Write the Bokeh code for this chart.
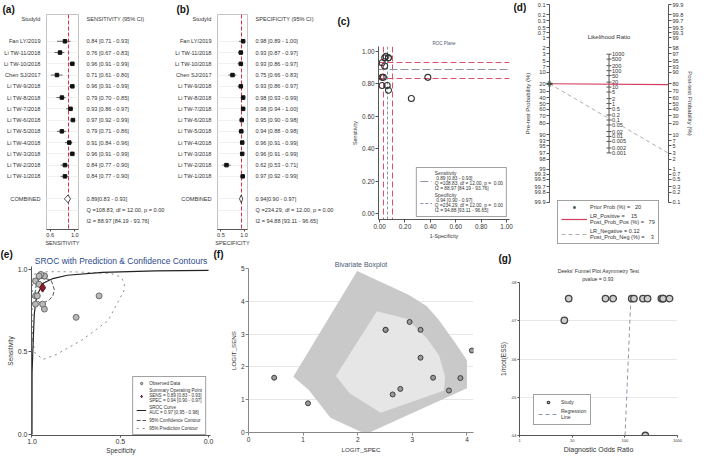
import numpy as np
from bokeh.plotting import figure
from bokeh.layouts import row, column
from bokeh.models import Range1d, FixedTicker, LinearAxis, Legend, Label, Title, PrintfTickFormatter
from bokeh.embed import file_html
from bokeh.resources import INLINE
from bokeh.core.properties import value

FONT = "Liberation Sans"
TXT = "#333333"

# ---------------- data ----------------
studies = ["Fan LY/2019", "Li TW-11/2018", "Li TW-10/2018", "Chen SJ/2017", "Li TW-9/2018",
           "Li TW-8/2018", "Li TW-7/2018", "Li TW-6/2018", "Li TW-5/2018", "Li TW-4/2018",
           "Li TW-3/2018", "Li TW-2/2018", "Li TW-1/2018"]
sens    = [0.84, 0.76, 0.96, 0.71, 0.96, 0.79, 0.93, 0.97, 0.79, 0.91, 0.96, 0.84, 0.84]
sens_lo = [0.71, 0.67, 0.91, 0.61, 0.91, 0.70, 0.86, 0.92, 0.71, 0.84, 0.91, 0.77, 0.77]
sens_hi = [0.93, 0.83, 0.99, 0.80, 0.99, 0.85, 0.97, 0.99, 0.86, 0.96, 0.99, 0.90, 0.90]
spec    = [0.98, 0.93, 0.93, 0.75, 0.93, 0.98, 0.98, 0.95, 0.94, 0.96, 0.96, 0.62, 0.97]
spec_lo = [0.89, 0.87, 0.86, 0.66, 0.86, 0.93, 0.94, 0.90, 0.88, 0.91, 0.91, 0.53, 0.92]
spec_hi = [1.00, 0.97, 0.97, 0.83, 0.97, 0.99, 1.00, 0.98, 0.98, 0.99, 0.99, 0.71, 0.99]
pooled_sens = [0.89, 0.83, 0.93]
pooled_spec = [0.94, 0.90, 0.97]
sens_het = "Q =108.83, df = 12.00, p =  0.00"
sens_i2 = "I2 = 88.97 [84.19 - 93.76]"
spec_het = "Q =234.29, df = 12.00, p =  0.00"
spec_i2 = "I2 = 94.88 [93.11 - 96.65]"

# Fagan nomogram
prob_ticks = [0.1, 0.2, 0.3, 0.5, 0.7, 1, 2, 3, 5, 7, 10, 20, 30, 40, 50, 60, 70, 80, 90,
              93, 95, 97, 98, 99, 99.3, 99.5, 99.7, 99.8, 99.9]
lr_ticks = [1000, 500, 200, 100, 50, 20, 10, 5, 2, 1, 0.5, 0.2, 0.1, 0.05, 0.02, 0.01,
            0.005, 0.002, 0.001]
prior_prob = 20
lr_pos, post_pos = 15, 79
lr_neg, post_neg = 0.12, 3

# SROC
sroc_spec = [1.0, 0.9995, 0.993, 0.987, 0.978, 0.965, 0.937, 0.882, 0.80, 0.60, 0.30, 0.0]
sroc_sens = [0.0, 0.376, 0.572, 0.73, 0.81, 0.857, 0.916, 0.945, 0.965, 0.982, 0.991, 0.995]
auc_text = "AUC = 0.97 [0.95 - 0.98]"
conf_spec = [0.956, 0.925, 0.891, 0.873, 0.882, 0.900, 0.930, 0.956, 0.975, 0.983, 0.975, 0.956]
conf_sens = [0.945, 0.945, 0.935, 0.876, 0.840, 0.818, 0.800, 0.798, 0.820, 0.857, 0.915, 0.945]
pred_spec = [0.996, 0.983, 0.937, 0.864, 0.717, 0.569, 0.477, 0.477, 0.496, 0.551, 0.717,
             0.850, 0.950, 0.990, 0.998, 0.999, 0.996]
pred_sens = [0.572, 0.494, 0.455, 0.484, 0.572, 0.690, 0.876, 0.916, 0.955, 0.975, 0.984,
             0.987, 0.985, 0.970, 0.900, 0.700, 0.572]

# Bivariate boxplot
logit_spec = [0.47, 1.09, 2.51, 2.51, 2.95, 3.15, 3.15, 3.38, 2.64, 2.78, 3.67, 3.88, 4.09]
logit_sens = [1.67, 0.89, 3.13, 3.13, 3.37, 3.13, 2.28, 1.67, 1.16, 1.33, 1.28, 1.66, 2.50]
outer_x = [1.99, 2.93, 3.26, 3.49, 3.80, 4.00, 4.00, 2.15, 1.50, 1.10, 0.82]
outer_y = [4.92, 4.20, 3.86, 3.42, 2.70, 2.20, 1.35, -0.05, 0.45, 1.30, 1.70]
inner_x = [2.35, 2.90, 3.26, 3.49, 3.60, 3.58, 2.42, 1.85, 1.60]
inner_y = [3.70, 3.47, 2.89, 2.35, 1.70, 1.28, 0.60, 1.20, 1.72]

# Deeks funnel
dor = [8.6, 43, 60, 135, 149, 221, 270, 494, 533, 533, 707, 7.1, 245]
inv_root_ess = [0.0758, 0.0758, 0.0758, 0.0758, 0.0758, 0.0758, 0.0758, 0.0758, 0.0758,
                0.0758, 0.0758, 0.0701, 0.0400]
reg_dor = [101, 130]
reg_y = [0.0400, 0.0758]
ess_ticks = [0.04, 0.05, 0.06, 0.07, 0.08]
ess_labels = [".04", ".05", ".06", ".07", ".08"]
deeks_title = "Deeks' Funnel Plot Asymmetry Test"
deeks_p = "pvalue =  0.93"


# ---------------- helpers ----------------
def ov(ticks, labels):
    d = {}
    for t, l in zip(ticks, labels):
        d[t] = l
        d[str(t)] = l
    return d


def base_fig(w, h, xr, yr, l, r, t, b, **kw):
    p = figure(width=w, height=h, x_range=xr, y_range=yr, min_border_left=l,
               min_border_right=r, min_border_top=t, min_border_bottom=b,
               output_backend="svg", toolbar_location=None, frame_align=False, **kw)
    p.outline_line_color = None
    p.xgrid.grid_line_color = None
    p.ygrid.grid_line_color = None
    return p


def style_axis(ax, size, lsize=None, color=TXT):
    ax.major_label_text_font = FONT
    ax.major_label_text_font_size = f"{size}px"
    ax.major_label_text_color = color
    ax.axis_label_text_font = FONT
    ax.axis_label_text_font_size = f"{lsize or size}px"
    ax.axis_label_text_font_style = "normal"
    ax.axis_label_text_color = color
    ax.axis_line_color = "#555555"
    ax.major_tick_line_color = "#555555"
    ax.minor_tick_line_color = None
    ax.major_tick_in = 0
    ax.major_tick_out = 2
    ax.major_label_standoff = 1
    ax.axis_label_standoff = 1


def add_title(p, text, size, align="center", offset=0, standoff=0, bold=False, color=TXT):
    p.add_layout(Title(text=text, align=align, offset=offset, standoff=standoff,
                       text_font=FONT, text_font_size=f"{size}px",
                       text_font_style="bold" if bold else "normal", text_color=color), "above")


def data_label(p, text, x, y, size, bold=False, align="left", color=TXT):
    p.add_layout(Label(x=x, y=y, text=text, text_font=FONT, text_font_size=f"{size}px",
                       text_font_style="bold" if bold else "normal", text_align=align,
                       text_baseline="middle", text_color=color))


def style_legend(lg, size, pad=3, spacing=2):
    lg.label_text_font = FONT
    lg.label_text_font_size = f"{size}px"
    lg.label_text_color = TXT
    lg.border_line_color = "#444444"
    lg.border_line_width = 1
    lg.padding = pad
    lg.spacing = spacing
    lg.label_standoff = 3
    lg.glyph_width = 12
    lg.glyph_height = 6
    lg.label_height = 6
    lg.background_fill_alpha = 1


# ---------------- forest plots (a), (b) ----------------
rows = list(range(2, 2 + len(studies)))
ROW_HEAD, ROW_COMB, ROW_Q, ROW_I2 = 0, 16, 17, 18


def forest(est, lo, hi, pooled, het, i2, xr, xticks, xlab, head, width, lab, labx):
    p = base_fig(width, 248, Range1d(*xr), Range1d(18.72, -0.38), 44, width - 78, 14, 16)
    p.outline_line_color = "#c4c4c4"
    p.ygrid.ticker = FixedTicker(ticks=rows + [ROW_COMB, ROW_Q])
    p.ygrid.grid_line_color = "#f0f0f0"
    p.vspan(x=[pooled[0]], line_color="#d8304e", line_dash="4 2", line_width=1)
    p.segment(x0=lo, y0=rows, x1=hi, y1=rows, line_color="#444444", line_width=0.8)
    p.scatter(x=est, y=rows, marker="square", size=3.5, color="#111111")
    p.patch(x=[pooled[1], pooled[0], pooled[2], pooled[0]],
            y=[ROW_COMB, ROW_COMB - 0.35, ROW_COMB, ROW_COMB + 0.35],
            fill_color="white", line_color="#222222", line_width=0.8)
    fs = 5.6
    ya = p.yaxis[0]
    lt = [ROW_HEAD] + rows + [ROW_COMB]
    ya.ticker = FixedTicker(ticks=lt)
    ya.major_label_overrides = ov(lt, ["StudyId"] + studies + ["COMBINED"])
    style_axis(ya, fs)
    ya.axis_line_color = None
    ya.major_tick_line_color = None
    ya.major_label_standoff = 4
    rt = [ROW_HEAD] + rows + [ROW_COMB, ROW_Q, ROW_I2]
    rl = ([head] + [f"{e:.2f} [{l:.2f} - {h:.2f}]" for e, l, h in zip(est, lo, hi)]
          + [f"{pooled[0]:.2f}[{pooled[1]:.2f} - {pooled[2]:.2f}]", het, i2])
    ra = LinearAxis(ticker=FixedTicker(ticks=rt), major_label_overrides=ov(rt, rl))
    style_axis(ra, fs)
    ra.axis_line_color = None
    ra.major_tick_line_color = None
    ra.major_label_standoff = 6
    p.add_layout(ra, "right")
    xa = p.xaxis[0]
    xa.ticker = FixedTicker(ticks=xticks)
    xa.formatter = PrintfTickFormatter(format="%.1f")
    xa.axis_label = xlab
    style_axis(xa, fs)
    xa.axis_label_standoff = 0
    add_title(p, lab, 10, align="left", offset=labx - 44, standoff=0, bold=True, color="#111111")
    return p


pa = forest(sens, sens_lo, sens_hi, pooled_sens, sens_het, sens_i2, (0.54, 1.06), [0.6, 1.0],
            "SENSITIVITY", "SENSITIVITY (95% CI)", 171, "(a)", 0)
pb = forest(spec, spec_lo, spec_hi, pooled_spec, spec_het, spec_i2, (0.426, 1.074), [0.5, 1.0],
            "SPECIFICITY", "SPECIFICITY (95% CI)", 166, "(b)", 3)

# ---------------- (c) ROC plane ----------------
fpr = [1 - s for s in spec]
pc = base_fig(176, 248, Range1d(-0.0087, 1.023), Range1d(-0.036, 1.03), 41, 4, 46, 29)
add_title(pc, "ROC Plane", 4.6, standoff=2, color="#4c5a73")
add_title(pc, "(c)", 10, align="left", offset=-41, standoff=21, bold=True, color="#111111")
ct = [0, 0.2, 0.4, 0.6, 0.8, 1.0]
for ax in (pc.xaxis[0], pc.yaxis[0]):
    ax.ticker = FixedTicker(ticks=ct)
    ax.formatter = PrintfTickFormatter(format="%.2f")
    style_axis(ax, 6.4, 5.3)
    ax.major_tick_out = 3
pc.yaxis[0].major_label_orientation = "horizontal"
pc.xaxis[0].axis_label = "1-Specificity"
pc.yaxis[0].axis_label = "Sensitivity"
pc.hspan(y=pooled_sens[1:], line_color="#e0506a", line_dash="6 3", line_width=1)
pc.vspan(x=[1 - pooled_spec[2], 1 - pooled_spec[1]], line_color="#e0506a",
         line_dash="6 3", line_width=1)
h_p = pc.hspan(y=[pooled_sens[0]], line_color="#8a94a6", line_dash="8 3", line_width=1)
v_p = pc.vspan(x=[1 - pooled_spec[0]], line_color="#8a94a6", line_dash="3 2", line_width=1)
pc.scatter(x=fpr, y=sens, size=6, fill_color=None, line_color="#333333", line_width=1.1)
lg_c = Legend(items=[
    (f"Sensitivity\n {pooled_sens[0]:.2f} [{pooled_sens[1]:.2f} - {pooled_sens[2]:.2f}]\n{sens_het}\n{sens_i2}", [h_p]),
    (f"Specificity\n {pooled_spec[0]:.2f} [{pooled_spec[1]:.2f} - {pooled_spec[2]:.2f}]\n{spec_het}\n{spec_i2}", [v_p]),
], location="bottom_right")
style_legend(lg_c, 4.8)
lg_c.margin = 2
pc.add_layout(lg_c)

# ---------------- (d) Fagan nomogram (frame = whole panel, axes fixed) ----------------
def logit(p):
    return float(np.log(p / (1 - p)))


DW, DH = 180, 248
dx0, dx1 = -36 / 119, 1 + 25 / 119
dy1, dy0 = 7.0 + 3 / 14.294, -10.0 - 2 / 14.294
pdg = base_fig(DW, DH, Range1d(dx0, dx1), Range1d(dy0, dy1), 0, 0, 0, 0)
lt = [round(-logit(v / 100), 6) for v in prob_ticks]
rt = [round(logit(v / 100), 6) for v in prob_ticks]
plab = [f"{v:g}" for v in prob_ticks]
bnd = (min(lt), max(lt))
la = pdg.yaxis[0]
la.ticker = FixedTicker(ticks=lt)
la.major_label_overrides = ov(lt, plab)
la.axis_label = "Pre-test Probability (%)"
la.bounds = bnd
la.fixed_location = 0
style_axis(la, 5.6, 6)
la.major_tick_out = 3
ra = LinearAxis(ticker=FixedTicker(ticks=rt), major_label_overrides=ov(rt, plab),
                axis_label="Post-test Probability (%)", bounds=bnd, fixed_location=1)
style_axis(ra, 5.6, 6)
ra.major_tick_out = 3
pdg.add_layout(ra, "right")
pdg.xaxis.visible = False
lr_y = [float(np.log(v) / 2) for v in lr_ticks]
pdg.segment(x0=[0.5], y0=[min(lr_y)], x1=[0.5], y1=[max(lr_y)], line_color="#555555", line_width=1)
pdg.scatter(x=[0.5] * len(lr_y), y=lr_y, marker="dash", size=5, line_color="#555555")
pdg.text(x=[0.5] * len(lr_y), y=lr_y, text=[f"{v:g}" for v in lr_ticks], x_offset=3,
         text_font=value(FONT), text_font_size="5.6px", text_baseline="middle",
         text_color=TXT)
pdg.add_layout(Label(x=0.5, y=max(lr_y), y_offset=14, text="Likelihood Ratio",
                     text_font=FONT, text_font_size="6px", text_align="center",
                     text_color=TXT))
y0 = -logit(prior_prob / 100)
neg = pdg.line(x=[0, 1], y=[y0, logit(post_neg / 100)], line_color="#b0b0b0",
               line_dash="4 3", line_width=1)
pos = pdg.line(x=[0, 1], y=[y0, logit(post_pos / 100)], line_color="#d23b62", line_width=1.2)
pri = pdg.scatter(x=[0], y=[y0], marker="cross", size=6, line_color="#2f4a35", line_width=2)
lg_d = Legend(items=[
    (f"Prior Prob (%) =   {prior_prob}", [pri]),
    (f"LR_Positive =    {lr_pos}\nPost_Prob_Pos (%) =   {post_pos}", [pos]),
    (f"LR_Negative = {lr_neg}\nPost_Prob_Neg (%) =    {post_neg}", [neg]),
], location=(44, 4))
style_legend(lg_d, 5.6, pad=3, spacing=3)
lg_d.glyph_width = 26
pdg.add_layout(lg_d)
data_label(pdg, "(d)", dx0, dy1 - 7 / 14.294, 10, bold=True, color="#111111")

# ---------------- (e) SROC (frame = whole panel, axes fixed) ----------------
EW, EH = 226, 207
e_xs = 179 / 1.0138
e_ys = 169 / 1.024
ex0, ex1 = 1.0028 + 31 / e_xs, 1.0028 - (EW - 31) / e_xs
ey1, ey0 = 1.018 + 18 / e_ys, 1.018 - (EH - 18) / e_ys
pe = base_fig(EW, EH, Range1d(ex0, ex1), Range1d(ey0, ey1), 0, 0, 0, 0)
for ax in (pe.xaxis[0], pe.yaxis[0]):
    ax.ticker = FixedTicker(ticks=[0, 0.5, 1.0])
    ax.formatter = PrintfTickFormatter(format="%.1f")
    style_axis(ax, 7, 6.5)
    ax.major_tick_out = 3
pe.xaxis[0].major_tick_out = 2
pe.xaxis[0].axis_label_standoff = 0
pe.xaxis[0].fixed_location = -0.006
pe.xaxis[0].bounds = (-0.011, 1.0028)
pe.yaxis[0].fixed_location = 1.0028
pe.yaxis[0].bounds = (-0.006, 1.018)
pe.xaxis[0].axis_label = "Specificity"
pe.yaxis[0].axis_label = "Sensitivity"
pred = pe.line(pred_spec, pred_sens, line_color="#8a8a8a", line_dash="dotted", line_width=1)
conf = pe.line(conf_spec, conf_sens, line_color="#555555", line_dash="4 2", line_width=1)
sroc = pe.line(sroc_spec, sroc_sens, line_color="#222222", line_width=1.2)
obs = pe.scatter(spec, sens, size=6, fill_color="#b8b8b8", line_color="#555555", line_width=0.8)
summ = pe.scatter([pooled_spec[0]], [pooled_sens[0]], marker="diamond", size=9,
                  fill_color="#8b1c2c", line_color="#5a0f18")
lg_e = Legend(items=[
    ("Observed Data", [obs]),
    (f"Summary Operating Point\nSENS = {pooled_sens[0]:.2f} [{pooled_sens[1]:.2f} - {pooled_sens[2]:.2f}]\n"
     f"SPEC = {pooled_spec[0]:.2f} [{pooled_spec[1]:.2f} - {pooled_spec[2]:.2f}]", [summ]),
    (f"SROC Curve\n{auc_text}", [sroc]),
    ("95% Confidence Contour", [conf]),
    ("95% Prediction Contour", [pred]),
], location="bottom_right")
style_legend(lg_e, 4.6, pad=3, spacing=2)
lg_e.glyph_width = 10
lg_e.margin = 20
pe.add_layout(lg_e)
data_label(pe, "SROC with Prediction & Confidence Contours", (1.0028 - 0.011) / 2,
           ey1 - 12 / e_ys, 8.5, align="center", color="#2c4a8c")
data_label(pe, "(e)", ex0, ey1 - 6 / e_ys, 10, bold=True, color="#111111")
data_label(pe, "(f)", 1.0028 - (213 - 31) / e_xs, ey1 - 6 / e_ys, 10, bold=True, color="#111111")

# ---------------- (f) Bivariate boxplot ----------------
pf = base_fig(252, 207, Range1d(0, 4.12), Range1d(0, 5), 20, 5, 20, 21, title="Bivariate Boxplot")
pf.title.align = "center"
pf.title.text_font = FONT
pf.title.text_font_size = "7px"
pf.title.text_font_style = "normal"
pf.title.text_color = "#4c5a73"
pf.title.standoff = 2
pf.ygrid.grid_line_color = "#e6e6e6"
pf.ygrid.ticker = FixedTicker(ticks=[1, 2, 3, 4])
pf.xaxis[0].ticker = FixedTicker(ticks=[0, 1, 2, 3, 4])
pf.yaxis[0].ticker = FixedTicker(ticks=[0, 1, 2, 3, 4, 5])
for ax in (pf.xaxis[0], pf.yaxis[0]):
    style_axis(ax, 6.5, 6.2)
    ax.axis_line_color = "#888888"
    ax.major_tick_line_color = "#888888"
    ax.major_tick_out = 3
pf.yaxis[0].major_label_orientation = "horizontal"
pf.xaxis[0].axis_label = "LOGIT_SPEC"
pf.yaxis[0].axis_label = "LOGIT_SENS"
pf.patch(outer_x, outer_y, fill_color="#c9c9c9", line_color=None)
pf.patch(inner_x, inner_y, fill_color="#e6e6e6", line_color=None)
pf.scatter(logit_spec, logit_sens, size=5, fill_color="#9a9a9a", line_color="#333333", line_width=0.9)

# ---------------- (g) Deeks funnel ----------------
pg = base_fig(215, 207, Range1d(1, 1000), Range1d(0.04, 0.08), 41, 16, 34, 17, x_axis_type="log")
add_title(pg, deeks_p, 5.2, standoff=1)
add_title(pg, deeks_title, 5.2, standoff=0)
add_title(pg, "(g)", 10, align="left", offset=-21, standoff=3, bold=True, color="#111111")
pg.ygrid.grid_line_color = "#e8e8e8"
pg.ygrid.ticker = FixedTicker(ticks=ess_ticks)
xa = pg.xaxis[0]
xa.ticker = FixedTicker(ticks=[1, 10, 100, 1000])
xa.formatter = PrintfTickFormatter(format="%d")
xa.axis_label = "Diagnostic Odds Ratio"
style_axis(xa, 4, 7)
ya = pg.yaxis[0]
ya.ticker = FixedTicker(ticks=ess_ticks)
ya.major_label_overrides = ov(ess_ticks, ess_labels)
ya.axis_label = "1/root(ESS)"
style_axis(ya, 4, 6.5)
ya.major_label_orientation = "horizontal"
reg = pg.line(reg_dor, reg_y, line_color="#8a98a8", line_dash="4 3", line_width=1)
stu = pg.scatter(dor, inv_root_ess, size=6.5, fill_color="#cfcfcf", line_color="#444444", line_width=1.3)
lg_g = Legend(items=[("Study", [stu]), ("Regression\nLine", [reg])], location=(14, 10))
style_legend(lg_g, 5, pad=4, spacing=3)
lg_g.glyph_width = 20
pg.add_layout(lg_g)

layout = column(row(pa, pb, pc, pdg), row(pe, pf, pg))
open("out.html", "w").write(file_html(layout, INLINE))
